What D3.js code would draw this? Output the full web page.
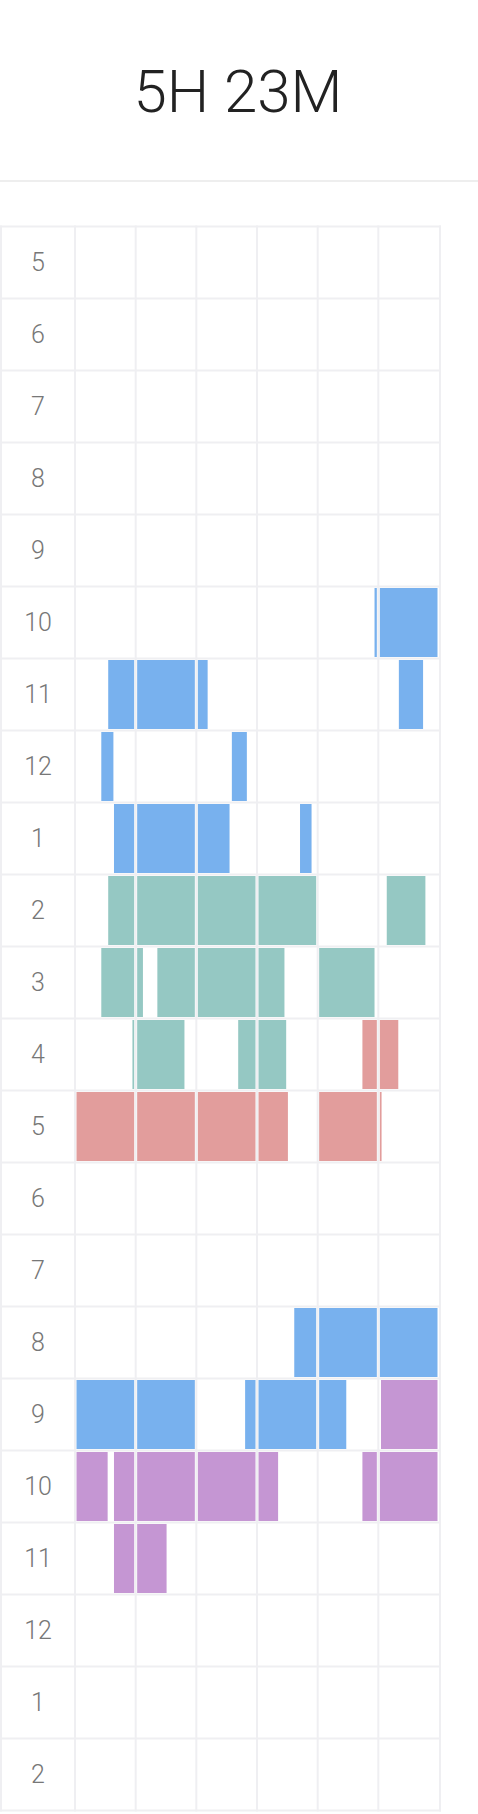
<!DOCTYPE html>
<html lang="en">
<head>
    <meta charset="UTF-8">
    <title>Day timeline</title>
    <script src="https://d3js.org/d3.v7.min.js"></script>
    <style>
body {
    margin: 0;
    background: #fff;
}
.hour-label {
    font-family: Roboto, sans-serif;
    font-weight: 300;
    font-size: 25px;
    fill: #777;
}
.title {
    font-family: Roboto, sans-serif;
    font-weight: 300;
    font-size: 60px;
    fill: #222;
}
    </style>
</head>
<body>
    <svg width="478" height="1814"></svg>
    <script>
        // hour rows, 5 in the morning to 2 at night
        const hourLabels = ["5", "6", "7", "8", "9", "10", "11", "12", "1", "2", "3", "4",
                            "5", "6", "7", "8", "9", "10", "11", "12", "1", "2"];
        // each column is a 10 minute slot
        const slots = [0, 1, 2, 3, 4, 5];
        const totalText = "5H 23M";

        // sessions: row index into hourLabels, from / to in minutes of that hour
        const blueSessions = [
            {row: 5, from: 49.6, to: 60},
            {row: 6, from: 5.5, to: 21.7},
            {row: 6, from: 53.3, to: 57.5},
            {row: 7, from: 4.3, to: 6.4},
            {row: 7, from: 25.9, to: 28.5},
            {row: 8, from: 6.5, to: 25.5},
            {row: 8, from: 37.2, to: 39.2},
            {row: 15, from: 36.2, to: 60},
            {row: 16, from: 0, to: 20},
            {row: 16, from: 28.2, to: 44.7}
        ];
        const tealSessions = [
            {row: 9, from: 5.5, to: 40},
            {row: 9, from: 51.2, to: 57.9},
            {row: 10, from: 4.3, to: 11.0},
            {row: 10, from: 13.5, to: 34.5},
            {row: 10, from: 40, to: 49.6},
            {row: 11, from: 9.7, to: 18.2},
            {row: 11, from: 27.0, to: 34.8}
        ];
        const redSessions = [
            {row: 11, from: 47.5, to: 53.2},
            {row: 12, from: 0, to: 35.1},
            {row: 12, from: 40, to: 50.3}
        ];
        const purpleSessions = [
            {row: 16, from: 50.2, to: 60},
            {row: 17, from: 0, to: 5.4},
            {row: 17, from: 6.5, to: 33.4},
            {row: 17, from: 47.5, to: 60},
            {row: 18, from: 6.5, to: 15.1}
        ];

        const series = [
            {color: "#78b1ee", data: blueSessions},
            {color: "#95c8c3", data: tealSessions},
            {color: "#e29d9c", data: redSessions},
            {color: "#c596d3", data: purpleSessions}
        ];

        const width = 478;
        const gridTop = 226.5, rowH = 72;
        const gridLeft = 75, gridRight = 439;
        const inset = 1.5;
        const lineColor = "#efeff2";

        const svg = d3.select("svg");

        // header
        svg.append("text")
            .attr("class", "title")
            .attr("x", 238)
            .attr("y", 112)
            .attr("text-anchor", "middle")
            .text(totalText);
        svg.append("line")
            .attr("x1", 0).attr("x2", width)
            .attr("y1", 181).attr("y2", 181)
            .attr("stroke", "#eeeeee")
            .attr("stroke-width", 2);

        //Scale
        const yScale = d3.scaleBand()
                    .domain(d3.range(hourLabels.length))
                    .range([gridTop, gridTop + rowH * hourLabels.length]);
        const xScale = d3.scaleBand()
                    .domain(slots)
                    .range([gridLeft, gridRight]);
        const minuteScale = d3.scaleLinear()
                    .domain([0, 10])
                    .range([inset, xScale.bandwidth() - inset]);

        // grid lines
        const grid = svg.append("g");
        grid.selectAll(".hline")
            .data(d3.range(hourLabels.length + 1))
            .enter().append("line")
            .attr("x1", 0).attr("x2", gridRight + 2)
            .attr("y1", d => gridTop + d * rowH)
            .attr("y2", d => gridTop + d * rowH)
            .attr("stroke", lineColor)
            .attr("stroke-width", 2);
        const vlines = [1].concat(slots.map(s => xScale(s)), [gridRight + 1]);
        grid.selectAll(".vline")
            .data(vlines)
            .enter().append("line")
            .attr("x1", d => d).attr("x2", d => d)
            .attr("y1", gridTop - 1)
            .attr("y2", gridTop + rowH * hourLabels.length + 1)
            .attr("stroke", lineColor)
            .attr("stroke-width", 2);

        // hour labels
        svg.selectAll(".hour-label")
            .data(hourLabels)
            .enter().append("text")
            .attr("class", "hour-label")
            .attr("x", 38)
            .attr("y", (d, i) => yScale(i) + rowH / 2)
            .attr("dy", "0.35em")
            .attr("text-anchor", "middle")
            .text(d => d);

        // split every session into the 10 minute cells it touches
        function toCells(s) {
            const out = [];
            slots.forEach(c => {
                const a = Math.max(s.from, c * 10), b = Math.min(s.to, c * 10 + 10);
                if (b > a) out.push({row: s.row, slot: c, a: a - c * 10, b: b - c * 10});
            });
            return out;
        }

        const bars = svg.append("g");
        series.forEach(sr => {
            bars.append("g")
                .selectAll("rect")
                .data(sr.data.flatMap(toCells))
                .enter().append("rect")
                .attr("x", d => xScale(d.slot) + minuteScale(d.a))
                .attr("y", d => yScale(d.row) + inset)
                .attr("width", d => minuteScale(d.b) - minuteScale(d.a))
                .attr("height", yScale.bandwidth() - 2 * inset)
                .attr("fill", sr.color);
        });
    </script>
</body>
</html>
